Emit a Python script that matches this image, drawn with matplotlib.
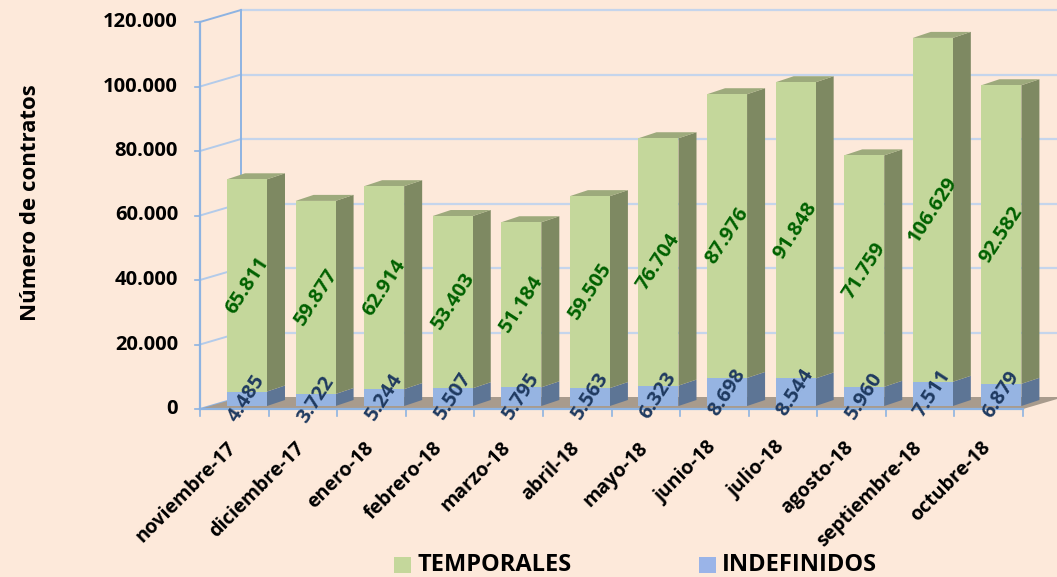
import matplotlib
matplotlib.use("Agg")
import matplotlib.pyplot as plt
from matplotlib.patches import Polygon, Rectangle

months = ["noviembre-17", "diciembre-17", "enero-18", "febrero-18", "marzo-18", "abril-18",
          "mayo-18", "junio-18", "julio-18", "agosto-18", "septiembre-18", "octubre-18"]
temporales = [65811, 59877, 62914, 53403, 51184, 59505, 76704, 87976, 91848, 71759, 106629, 92582]
indefinidos = [4485, 3722, 5244, 5507, 5795, 5563, 6323, 8698, 8544, 5960, 7511, 6879]
yticks = [0, 20000, 40000, 60000, 80000, 100000, 120000]

BG = "#FDE9DA"
W, H = 1057, 577
fig = plt.figure(figsize=(W / 100, H / 100), dpi=100, facecolor=BG)
FONT = ["Open Sans", "DejaVu Sans"]

# front plane in pixels
x0p, x1p = 200, 1023
y0p, y1p = 409, 22
ax = fig.add_axes([x0p / W, 1 - y0p / H, (x1p - x0p) / W, (y0p - y1p) / H])
ax.set_facecolor("none")
n = len(months)
ax.set_xlim(-0.5, n - 0.5)
ax.set_ylim(0, 120000)
ax.axis("off")

PXX = (x1p - x0p) / n          # px per x unit
PXY = (y0p - y1p) / 120000.0   # px per y unit


def off(x, y, dxp, dyp):
    return (x + dxp / PXX, y + dyp / PXY)


# depth offset of back wall
BDX, BDY = 41, 12
GRID = "#C5D5EC"
AXC = "#8DB3E2"

# floor
floor = Polygon([(-0.5, 0), (n - 0.5, 0), off(n - 0.5, 0, BDX, BDY), off(-0.5, 0, BDX, BDY)],
                closed=True, facecolor="#A89B8D", edgecolor="none", clip_on=False, zorder=1)
ax.add_patch(floor)

# back wall gridlines + side wall lines
for v in yticks:
    bx0, by = off(-0.5, v, BDX, BDY)
    bx1, _ = off(n - 0.5, v, BDX, BDY)
    if v > 0:
        ax.plot([bx0, bx1], [by, by], color=GRID, lw=1.6, clip_on=False, zorder=0.5)
    ax.plot([-0.5, bx0], [v, by], color=AXC if v in (0, 120000) else "#B3CBEA",
            lw=1.4, clip_on=False, zorder=0.6)
    # y tick marks
    ax.plot([-0.5 - 5 / PXX, -0.5], [v, v], color=AXC, lw=1.2, clip_on=False, zorder=3)
    lab = f"{v:,}".replace(",", ".")
    ax.text(-0.5 - 22 / PXX, v, lab, ha="right", va="center", fontsize=14.5,
            fontweight="bold", family=FONT, color="black")

bxl, byb = off(-0.5, 0, BDX, BDY)
_, byt = off(-0.5, 120000, BDX, BDY)
ax.plot([bxl, bxl], [byb, byt], color=AXC, lw=1.4, clip_on=False, zorder=0.6)
ax.plot([-0.5, -0.5], [0, 120000], color=AXC, lw=1.6, clip_on=False, zorder=3)
ax.plot([-0.5, n - 0.5], [0, 0], color=AXC, lw=1.6, clip_on=False, zorder=3)
for k in range(n + 1):
    ax.plot([k - 0.5, k - 0.5], [0, -7 / PXY], color=AXC, lw=1.2, clip_on=False, zorder=3)

# bars
SHIFT = 12.7 / PXX
HALF = 20 / PXX
BASE = 3 / PXY
DX, DY = 18, 6
G_FRONT, G_SIDE, G_TOP = "#C4D79B", "#7E8962", "#9DAA7C"
B_FRONT, B_SIDE = "#96B4E2", "#5D7595"

for i in range(n):
    xc = i + SHIFT
    xl, xr = xc - HALF, xc + HALF
    segs = [(BASE, BASE + indefinidos[i], B_FRONT, B_SIDE),
            (BASE + indefinidos[i], BASE + indefinidos[i] + temporales[i], G_FRONT, G_SIDE)]
    for (yb, yt, fc, sc) in segs:
        ax.add_patch(Polygon([(xr, yb), (xr, yt), off(xr, yt, DX, DY), off(xr, yb, DX, DY)],
                             closed=True, facecolor=sc, edgecolor="none", zorder=4, clip_on=False))
        ax.add_patch(Rectangle((xl, yb), xr - xl, yt - yb, facecolor=fc, edgecolor="none",
                               zorder=5, clip_on=False))
    top = BASE + indefinidos[i] + temporales[i]
    ax.add_patch(Polygon([(xl, top), (xr, top), off(xr, top, DX, DY), off(xl, top, DX, DY)],
                         closed=True, facecolor=G_TOP, edgecolor="none", zorder=4, clip_on=False))
    # labels
    tl = f"{temporales[i]:,}".replace(",", ".")
    il = f"{indefinidos[i]:,}".replace(",", ".")
    ax.text(xc, BASE + indefinidos[i] + temporales[i] / 2, tl, rotation=57, ha="center",
            va="center", rotation_mode="anchor", fontsize=14.5, fontweight="bold", family=FONT,
            color="#006100", zorder=7)
    ax.text(xc, BASE + indefinidos[i] / 2, il, rotation=57, ha="center", va="center",
            rotation_mode="anchor", fontsize=14.5, fontweight="bold", family=FONT,
            color="#1F3A60", zorder=7)
    # category label
    ax.text(i - 1 / PXX, -36 / PXY, months[i], rotation=45, ha="right", va="center",
            rotation_mode="anchor", fontsize=14, fontweight="bold", family=FONT,
            color="black", clip_on=False)

# y axis title
fig.text(30 / W, 1 - 203 / H, "Número de contratos", rotation=90, ha="center", va="center",
         fontsize=16, fontweight="bold", family=FONT, color="black")

# legend
ly = 1 - 565 / H
fig.patches.append(Rectangle((394 / W, 1 - 573 / H), 17 / W, 16 / H, transform=fig.transFigure,
                             facecolor=G_FRONT, edgecolor="none"))
fig.text(418 / W, ly, "TEMPORALES", ha="left", va="center", fontsize=17, fontweight="bold",
         family=FONT, color="black")
fig.patches.append(Rectangle((699 / W, 1 - 573 / H), 17 / W, 16 / H, transform=fig.transFigure,
                             facecolor="#9AB4E8", edgecolor="none"))
fig.text(722 / W, ly, "INDEFINIDOS", ha="left", va="center", fontsize=17, fontweight="bold",
         family=FONT, color="black")

fig.savefig("out.png", dpi=100, facecolor=BG)
